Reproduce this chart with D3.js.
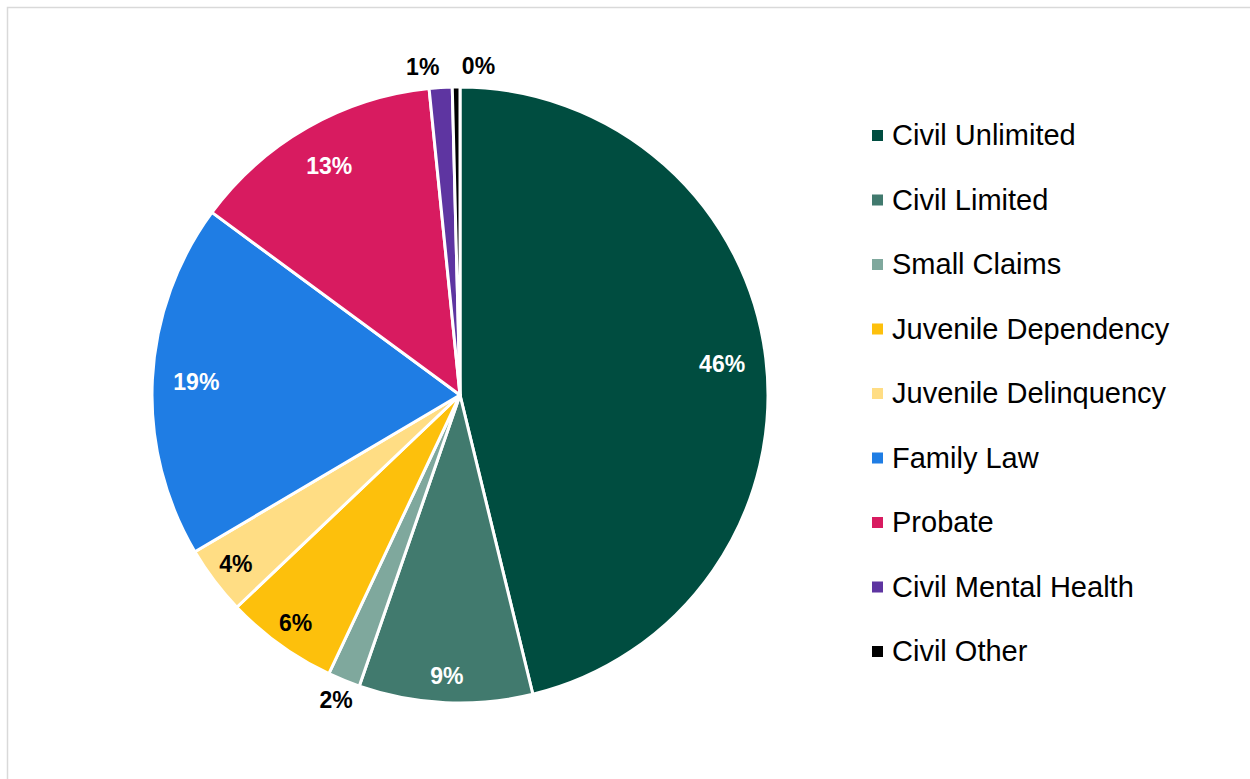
<!DOCTYPE html>
<html lang="en">

<head>
    <meta charset="UTF-8" />
    <title>Case Filings by Type</title>
    <script src="https://cdnjs.cloudflare.com/ajax/libs/d3/7.8.5/d3.min.js"></script>
    <style>
        body {
            margin: 0;
            padding: 0;
            background: white;
            font-family: Arial, 'Liberation Sans', sans-serif;
        }

        .slice-label {
            font-size: 23px;
            font-weight: bold;
        }

        .legend-label {
            font-size: 29px;
            fill: #000;
        }
    </style>
</head>

<body>
    <svg id="chart" width="1250" height="779"></svg>

    <script>
        const categories = ["Civil Unlimited", "Civil Limited", "Small Claims", "Juvenile Dependency",
            "Juvenile Delinquency", "Family Law", "Probate", "Civil Mental Health", "Civil Other"];
        const shares = [46.2, 9.1, 1.7, 5.9, 3.6, 18.6, 13.3, 1.2, 0.4];
        const colors = ["#004d40", "#417a6e", "#7fa89d", "#fdc00c", "#ffdd84",
            "#1f7de4", "#d81b60", "#5e35a1", "#000000"];

        const svg = d3.select("#chart");

        // chart border (right and bottom edges run off the page)
        svg.append("rect")
            .attr("x", 7.5).attr("y", 7.5)
            .attr("width", 1260).attr("height", 790)
            .attr("fill", "none")
            .attr("stroke", "#d9d9d9")
            .attr("stroke-width", 1.5);

        const cx = 460, cy = 395, radius = 308;

        const pie = d3.pie().sort(null).value(d => d.value);
        const data = pie(categories.map((c, i) => ({ name: c, value: shares[i], color: colors[i] })));

        const arc = d3.arc().innerRadius(0).outerRadius(radius);
        const g = svg.append("g").attr("transform", `translate(${cx},${cy})`);

        g.selectAll("path")
            .data(data)
            .join("path")
            .attr("d", arc)
            .attr("fill", d => d.data.color)
            .attr("stroke", "white")
            .attr("stroke-width", 3)
            .attr("stroke-linejoin", "round");

        // labels: inside for the bigger slices (thin ones pushed further out), outside for tiny ones
        const labelArc = r => d3.arc().innerRadius(r).outerRadius(r);
        const wide = labelArc(264), narrow = labelArc(281), outer = labelArc(329);
        const darkText = ["Juvenile Dependency", "Juvenile Delinquency"];

        g.selectAll("text")
            .data(data)
            .join("text")
            .attr("class", "slice-label")
            .each(function (d) {
                const v = d.data.value;
                const small = v < 3;
                const [x, y] = (small ? outer : v < 10 ? narrow : wide).centroid(d);
                let anchor = "middle";
                if (d.data.name === "Civil Mental Health") anchor = "end";
                if (d.data.name === "Civil Other") anchor = "start";
                d3.select(this)
                    .attr("x", anchor === "start" ? x + 6 : x)
                    .attr("y", y)
                    .attr("text-anchor", anchor)
                    .attr("dominant-baseline", "central")
                    .attr("fill", small || darkText.includes(d.data.name) ? "#000" : "#fff");
            })
            .text(d => Math.round(d.data.value) + "%");

        // legend
        const legendY = d3.scalePoint().domain(categories).range([135, 651]);
        const legend = svg.append("g")
            .selectAll("g")
            .data(data)
            .join("g")
            .attr("transform", d => `translate(872,${legendY(d.data.name)})`);

        legend.append("rect")
            .attr("x", 0).attr("y", -5)
            .attr("width", 11).attr("height", 11)
            .attr("fill", d => d.data.color);

        legend.append("text")
            .attr("class", "legend-label")
            .attr("x", 20)
            .attr("y", 0)
            .attr("dominant-baseline", "central")
            .text(d => d.data.name);
    </script>
</body>

</html>
